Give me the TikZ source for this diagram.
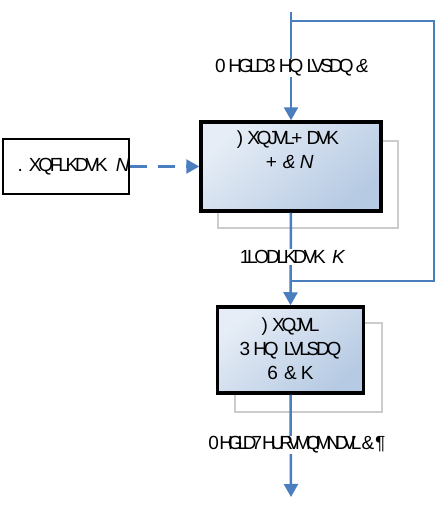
\documentclass[tikz,border=0pt]{standalone}
\usepackage{fontspec}
\setmainfont{Liberation Sans}[LetterSpace=-17]
\usetikzlibrary{arrows.meta}

\definecolor{Flow}{HTML}{4A7EBF}
\definecolor{BoxTop}{HTML}{E6EDF6}
\definecolor{BoxBottom}{HTML}{B6CAE3}
\definecolor{Shadow}{HTML}{CCCCCC}

\tikzset{
  flow/.style={line width=2.5pt, color=Flow},
  flowarrow/.style={flow, -{Triangle[width=14pt,length=13pt]}},
  funcbox/.style={draw=black, line width=3.5pt, top color=BoxTop, bottom color=BoxBottom, shading angle=40, inner sep=0pt},
  shadowbox/.style={draw=Shadow, line width=1.5pt, inner sep=0pt},
  keybox/.style={draw=black, line width=1.2pt, fill=white, inner sep=0pt},
  lbl/.style={fill=white, inner sep=1pt, font=\fontsize{19}{24}\selectfont},
  boxtext/.style={align=center, inner sep=0pt, font=\fontsize{19}{24}\selectfont}
}

\begin{document}
\begin{tikzpicture}[x={(1pt,0pt)}, y={(0pt,-1pt)}]

 \useasboundingbox (0,0) rectangle (436,506);

 %%%%%%%%%% Points pour travailler %%%%%%%%%%
 \coordinate (top) at (291,12);
 \coordinate (fbA) at (291,21);
 \coordinate (fbB) at (434,21);
 \coordinate (fbC) at (434,281);
 \coordinate (fbD) at (291,281);
 \coordinate (bottom) at (291,497);

 %%%%%%%%%% Shadows %%%%%%%%%%
 \node [shadowbox, minimum width=180pt, minimum height=87pt] (hashshadow) at (308,184.5) {};
 \node [shadowbox, minimum width=147pt, minimum height=89pt] (storeshadow) at (308.5,367.5) {};

 %%%%%%%%%% Boxes %%%%%%%%%%
 \node [keybox, minimum width=126pt, minimum height=55pt] (key) at (66,166.5) {};
 \node [boxtext] (keytext) at (72,166.5) {.\ \ \ XQFLKDVK\ \ \ \ \textit{N}};

 \node [funcbox, minimum width=180pt, minimum height=89pt] (hash) at (291,166.5) {};
 \node [boxtext, anchor=north] (hashtext) at (288,131) {)\ \ XQJVL+\ \ DVK\\\textit{+\ \ \ \&\ \ N}};

 \node [funcbox, minimum width=146pt, minimum height=86pt] (store) at (290.5,350) {};
 \node [boxtext] (storetext) at (290.5,349) {)\ \ XQJVL\\3\,HQ\,\ LVLSDQ\\6\ \ \ \&\ \ K};

 %%%%%%%%%% Connectors %%%%%%%%%%
 \draw [flow] (fbA) -- (fbB) -- (fbC) -- (fbD) ;
 \draw [flowarrow] (top) -- (hash.north) ;
 \draw [flowarrow] (hash.south) -- (store.north) ;
 \draw [flowarrow] (store.south) -- (bottom) ;
 \draw [flowarrow, dash pattern=on 17pt off 11pt] (key.east) -- (hash.west) ;

 %%%%%%%%%% Labels %%%%%%%%%%
 \node [lbl] (media) at (290,68) {\addfontfeatures{LetterSpace=-21}0\ \ HGLD3\,HQ\,LVSDQ\ \ \textit{\&}};
 \node [lbl] (nilai) at (291,257) {1LODLKDVK\ \ \ \textit{K}};
 \node [lbl] (tersimpan) at (294,445) {\addfontfeatures{LetterSpace=-27}0\ \ HGLD7\ HURVMQMNDVL\ \&\ \textit{¶}};

\end{tikzpicture}
\end{document}
